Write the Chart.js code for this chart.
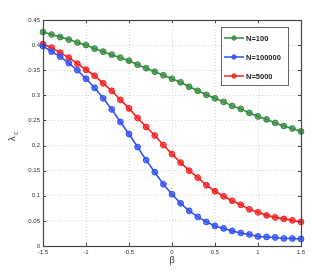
<!DOCTYPE html>
<html><head><meta charset="utf-8">
<script src="https://cdn.jsdelivr.net/npm/chart.js@4/dist/chart.umd.min.js"></script>
<style>html,body{margin:0;padding:0;background:#fff;}#wrap{width:332px;height:277px;}</style>
</head><body><div id="wrap"><canvas id="c" width="332" height="277"></canvas></div>
<script>
const beta = [-1.5,-1.4,-1.3,-1.2,-1.1,-1.0,-0.9,-0.8,-0.7,-0.6,-0.5,-0.4,-0.3,-0.2,-0.1,0,0.1,0.2,0.3,0.4,0.5,0.6,0.7,0.8,0.9,1.0,1.1,1.2,1.3,1.4,1.5];
const n100 = [0.426,0.421,0.416,0.411,0.405,0.400,0.393,0.387,0.381,0.375,0.369,0.361,0.354,0.347,0.340,0.333,0.326,0.317,0.309,0.301,0.294,0.287,0.279,0.273,0.265,0.258,0.252,0.245,0.239,0.234,0.228];
const n100000 = [0.398,0.387,0.377,0.364,0.350,0.333,0.315,0.294,0.272,0.247,0.223,0.197,0.171,0.147,0.123,0.103,0.085,0.070,0.058,0.048,0.040,0.035,0.030,0.026,0.023,0.019,0.018,0.017,0.015,0.015,0.014];
const n5000 = [0.402,0.395,0.385,0.375,0.363,0.351,0.339,0.324,0.309,0.291,0.274,0.255,0.237,0.220,0.201,0.183,0.166,0.150,0.136,0.121,0.109,0.099,0.090,0.082,0.073,0.067,0.061,0.057,0.054,0.051,0.048];
const seriesNames = ['N=100','N=100000','N=5000'];
const xTicks = [-1.5,-1,-0.5,0,0.5,1,1.5];
const yTicks = [0,0.05,0.1,0.15,0.2,0.25,0.3,0.35,0.4,0.45];

const colors = ['#358a3e','#3050f5','#f52020'];
const fills = ['rgba(53,138,62,0.75)','rgba(48,80,245,0.75)','rgba(245,32,32,0.75)'];
const vals = [n100, n100000, n5000];

const datasets = vals.map((v,i)=>({
  label: seriesNames[i],
  data: beta.map((b,j)=>({x:b,y:v[j]})),
  borderColor: colors[i],
  backgroundColor: fills[i],
  pointBorderColor: colors[i],
  borderWidth: 1.6,
  pointRadius: 2.9,
  pointBorderWidth: 1,
  clip: false,
  tension: 0
}));

const frame = {
  id:'frame',
  afterDatasetsDraw(chart){
    const {ctx, chartArea:a, scales} = chart;
    ctx.save();
    ctx.strokeStyle = '#444';
    ctx.lineWidth = 1;
    ctx.beginPath();
    xTicks.forEach(t=>{
      const x = Math.round(scales.x.getPixelForValue(t))+0.5;
      ctx.moveTo(x,a.bottom); ctx.lineTo(x,a.bottom-3);
      ctx.moveTo(x,a.top); ctx.lineTo(x,a.top+3);
    });
    yTicks.forEach(t=>{
      const y = Math.round(scales.y.getPixelForValue(t))+0.5;
      ctx.moveTo(a.left,y); ctx.lineTo(a.left+3,y);
      ctx.moveTo(a.right,y); ctx.lineTo(a.right-3,y);
    });
    ctx.stroke();
    ctx.lineWidth = 1.2;
    ctx.strokeRect(Math.round(a.left)+0.5, Math.round(a.top)+0.5, Math.round(a.right-a.left), Math.round(a.bottom-a.top));
    // legend
    const lx=221, ly=27, lw=67, lh=58;
    ctx.fillStyle='#fff';
    ctx.fillRect(lx,ly,lw,lh);
    ctx.strokeStyle='#666'; ctx.lineWidth=1;
    ctx.strokeRect(lx+0.5,ly+0.5,lw,lh);
    ctx.font='bold 7.5px "Liberation Sans", Arial, sans-serif';
    ctx.textBaseline='middle'; ctx.textAlign='left';
    seriesNames.forEach((n,i)=>{
      const yy = ly+11+i*19;
      ctx.strokeStyle=colors[i]; ctx.lineWidth=1.5;
      ctx.beginPath(); ctx.moveTo(lx+3,yy); ctx.lineTo(lx+23,yy); ctx.stroke();
      ctx.fillStyle=fills[i];
      ctx.beginPath(); ctx.arc(lx+13,yy,2.2,0,Math.PI*2); ctx.fill();
      ctx.strokeStyle=colors[i]; ctx.lineWidth=1; ctx.stroke();
      ctx.fillStyle='#222';
      ctx.fillText(n, lx+25, yy+0.5);
    });
    // y title lambda_c
    ctx.translate(13, 137);
    ctx.rotate(-Math.PI/2);
    ctx.fillStyle='#333';
    ctx.textAlign='left';
    ctx.font='9px "Liberation Sans", Arial, sans-serif';
    ctx.fillText('λ', -4, 0);
    ctx.font='7px "Liberation Sans", Arial, sans-serif';
    ctx.fillText('c', 2, 3);
    ctx.restore();
  }
};

new Chart(document.getElementById('c'), {
  type:'line',
  data:{datasets},
  options:{
    responsive:false,
    animation:false,
    devicePixelRatio:1,
    layout:{padding:{left:0,top:20,right:31,bottom:11}},
    plugins:{legend:{display:false},tooltip:{enabled:false}},
    scales:{
      x:{
        type:'linear', min:-1.5, max:1.5,
        afterBuildTicks(s){ s.ticks = xTicks.map(v=>({value:v})); },
        afterFit(s){ s.height = 20; },
        grid:{color:'#c8c8c8', lineWidth:0.8, drawTicks:false},
        border:{display:false, dash:[1,2]},
        ticks:{padding:3, color:'#333', font:{size:6, family:'"Liberation Sans", Arial, sans-serif'}, maxRotation:0,
          callback:v=>String(+(+v).toFixed(2))},
        title:{display:true, text:'β', color:'#333', padding:{top:0,bottom:0}, font:{size:9, family:'"Liberation Sans", Arial, sans-serif'}}
      },
      y:{
        type:'linear', min:0, max:0.45,
        afterBuildTicks(s){ s.ticks = yTicks.map(v=>({value:v})); },
        afterFit(s){ s.width = 43; },
        grid:{color:'#c8c8c8', lineWidth:0.8, drawTicks:false},
        border:{display:false, dash:[1,2]},
        ticks:{padding:3, color:'#333', font:{size:6, family:'"Liberation Sans", Arial, sans-serif'},
          callback:v=>String(+(+v).toFixed(2))}
      }
    }
  },
  plugins:[frame]
});
</script></body></html>
